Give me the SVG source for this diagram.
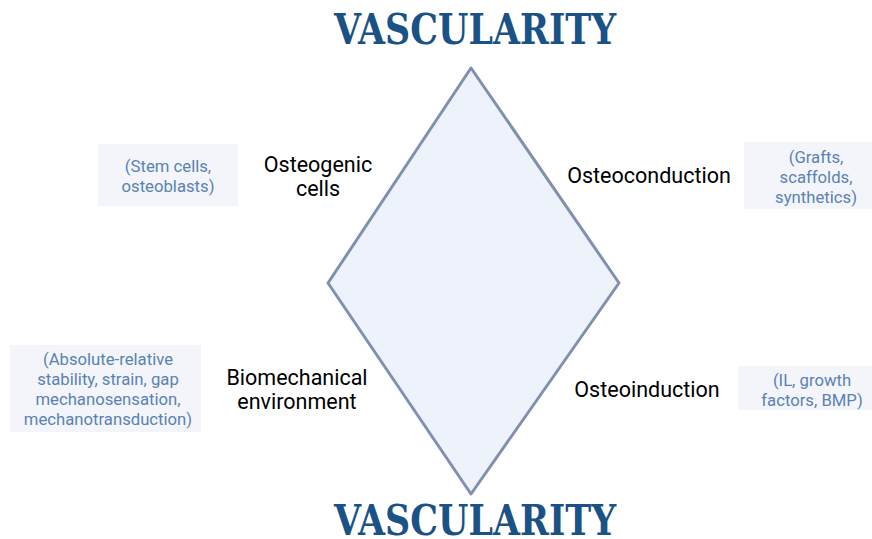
<svg xmlns="http://www.w3.org/2000/svg" width="872" height="539" viewBox="0 0 872 539">
<style>
.title{font-family:"DejaVu Serif Condensed","DejaVu Serif",serif;font-weight:bold;font-size:43px;fill:#1a5285}
.lab{font-family:Roboto,"Liberation Sans",sans-serif;font-size:21.5px;fill:#000;text-anchor:middle}
.note{font-family:Roboto,"Liberation Sans",sans-serif;font-size:16.7px;fill:#5a82b4;text-anchor:middle}
.box{fill:#f4f5fa}
</style>
<rect width="872" height="539" fill="#fff"/>
<g id="vascularity-top"><text class="title" x="475" y="44" text-anchor="middle" textLength="282" lengthAdjust="spacingAndGlyphs">VASCULARITY</text></g>
<g id="diamond"><polygon points="471,68 619,283 471,494 328,283" fill="#eef3fb" stroke="#8190b0" stroke-width="3" stroke-linejoin="round"/></g>
<g id="vascularity-bottom"><text class="title" x="475" y="535" text-anchor="middle" textLength="282" lengthAdjust="spacingAndGlyphs">VASCULARITY</text></g>
<g id="osteogenic">
<text class="lab" x="318" y="172">Osteogenic</text>
<text class="lab" x="318" y="196">cells</text>
</g>
<g id="osteogenic-note">
<rect class="box" x="98" y="144" width="140" height="62"/>
<text class="note" x="168" y="172">(Stem cells,</text>
<text class="note" x="168" y="192">osteoblasts)</text>
</g>
<g id="osteoconduction">
<text class="lab" x="649" y="183">Osteoconduction</text>
</g>
<g id="osteoconduction-note">
<rect class="box" x="744" y="142" width="128" height="67"/>
<text class="note" x="816" y="163">(Grafts,</text>
<text class="note" x="816" y="183">scaffolds,</text>
<text class="note" x="816" y="203">synthetics)</text>
</g>
<g id="biomechanical">
<text class="lab" x="297" y="385">Biomechanical</text>
<text class="lab" x="297" y="409">environment</text>
</g>
<g id="biomechanical-note">
<rect class="box" x="10" y="345" width="191" height="87"/>
<text class="note" x="108" y="365">(Absolute-relative</text>
<text class="note" x="108" y="385">stability, strain, gap</text>
<text class="note" x="108" y="405">mechanosensation,</text>
<text class="note" x="108" y="425">mechanotransduction)</text>
</g>
<g id="osteoinduction">
<text class="lab" x="647" y="397">Osteoinduction</text>
</g>
<g id="osteoinduction-note">
<rect class="box" x="738" y="366" width="134" height="44"/>
<text class="note" x="812" y="386">(IL, growth</text>
<text class="note" x="812" y="406">factors, BMP)</text>
</g>
<g id="connectors"></g>
</svg>
